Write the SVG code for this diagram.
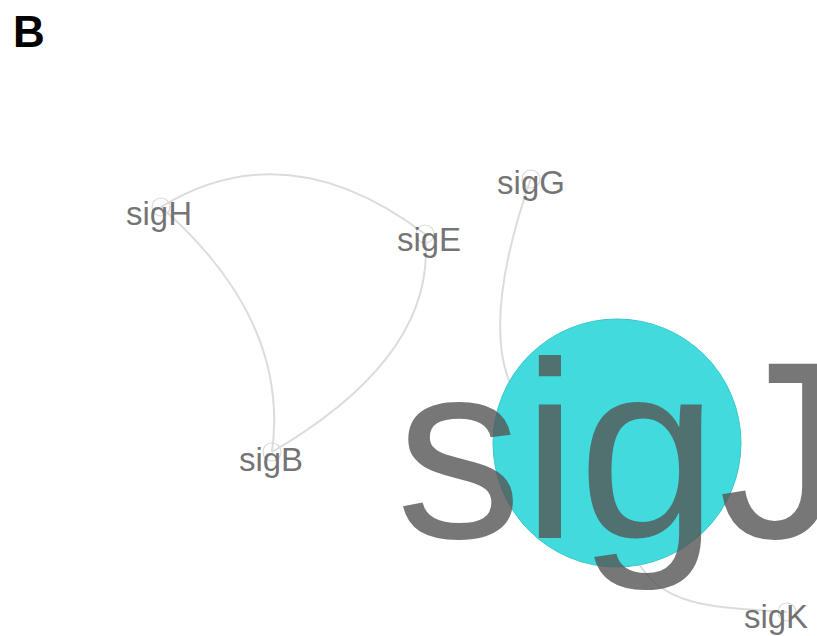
<svg xmlns="http://www.w3.org/2000/svg" width="817" height="636" viewBox="0 0 817 636">
<style>
.edge{fill:none;stroke:#dcdcdc;stroke-width:2}
.dot{fill:none;stroke:#d8d8d8;stroke-width:1.2}
.lbl{font-family:"Liberation Sans",Arial,sans-serif;fill:#555;fill-opacity:0.82;text-anchor:middle;font-size:33px}
.big{font-family:"Liberation Sans",Arial,sans-serif;fill:#555;fill-opacity:0.8;font-size:252px}
</style>
<rect width="817" height="636" fill="#fff"/>
<text x="13" y="47" font-family="Liberation Sans,Arial,sans-serif" font-weight="bold" font-size="44" fill="#000">B</text>
<g id="edges">
<path class="edge" d="M161,207 Q287,130 425,234"/>
<path class="edge" d="M161,207 Q290,320 272,452"/>
<path class="edge" d="M425,234 Q438,355 272,452"/>
<path class="edge" d="M531,178 Q440,440 617,443"/>
<path class="edge" d="M617,443 C615,610 680,605 787,612"/>
</g>
<g id="sigH"><circle class="dot" cx="161" cy="207" r="9"/><text class="lbl" x="159" y="225">sigH</text></g>
<g id="sigE"><circle class="dot" cx="425" cy="234" r="9"/><text class="lbl" x="429" y="251">sigE</text></g>
<g id="sigB"><circle class="dot" cx="272" cy="452" r="9"/><text class="lbl" x="271" y="471">sigB</text></g>
<g id="sigG"><circle class="dot" cx="531" cy="179" r="9"/><text class="lbl" x="531" y="194">sigG</text></g>
<g id="sigK"><circle class="dot" cx="787" cy="612" r="9"/><text class="lbl" x="776" y="628">sigK</text></g>
<g id="sigJ"><circle cx="617" cy="443" r="124" fill="#41dadd" stroke="#3cc6c9" stroke-width="1"/><text class="big" x="396" y="538">sigJ</text></g>
</svg>
